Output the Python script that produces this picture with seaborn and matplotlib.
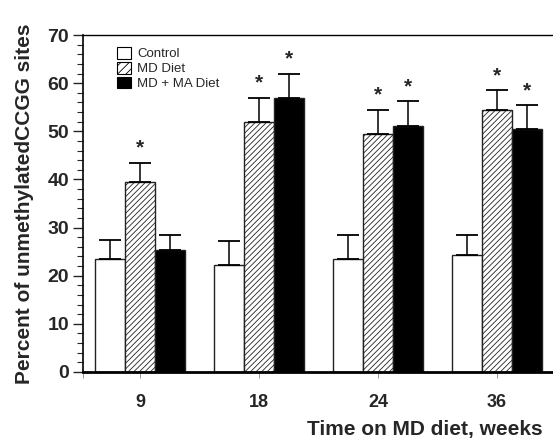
import matplotlib
matplotlib.use("Agg")
import matplotlib.pyplot as plt
import seaborn as sns
import pandas as pd
import numpy as np
from matplotlib.ticker import MultipleLocator
from matplotlib.patches import Patch

weeks = ["9", "18", "24", "36"]
groups = ["Control", "MD Diet", "MD + MA Diet"]
control = [23.4, 22.3, 23.4, 24.4]
md_diet = [39.5, 52.0, 49.5, 54.5]
md_ma = [25.4, 57.0, 51.2, 50.5]
control_err = [4.0, 5.0, 5.0, 4.0]
md_err = [4.0, 5.0, 5.0, 4.0]
ma_err = [3.0, 5.0, 5.0, 5.0]
stars_md = [True, True, True, True]
stars_ma = [False, True, True, True]

sns.set_style("ticks")
plt.rcParams['font.family'] = ['Liberation Sans', 'DejaVu Sans']
plt.rcParams['hatch.linewidth'] = 0.6

df = pd.DataFrame({
    "week": weeks * 3,
    "group": [groups[0]] * 4 + [groups[1]] * 4 + [groups[2]] * 4,
    "value": control + md_diet + md_ma,
})
errs = {groups[0]: control_err, groups[1]: md_err, groups[2]: ma_err}
stars = {groups[0]: [False] * 4, groups[1]: stars_md, groups[2]: stars_ma}
colors = {groups[0]: "white", groups[1]: "white", groups[2]: "black"}

fig = plt.figure(figsize=(5.53, 4.46), dpi=100)
ax = fig.add_axes([83 / 553, 1 - 372 / 446, 1 - 83 / 553, (372 - 35) / 446])

sns.barplot(data=df, x="week", y="value", hue="group", order=weeks,
            hue_order=groups, palette=colors, width=0.75, errorbar=None,
            edgecolor="#222222", linewidth=1.0, ax=ax, legend=False,
            saturation=1)

for gi, g in enumerate(groups):
    cont = ax.containers[gi]
    for wi, patch in enumerate(cont.patches):
        cx = patch.get_x() + patch.get_width() / 2
        h = patch.get_height()
        if g == "MD Diet":
            patch.set_hatch("//////")
            if hasattr(patch, "set_hatchcolor"):
                patch.set_hatchcolor("#777777")
        ax.errorbar([cx], [h], yerr=[[0], [errs[g][wi]]], fmt="none",
                    ecolor="black", elinewidth=1.1, capsize=8, capthick=1.3,
                    zorder=1)
        if stars[g][wi]:
            ax.text(cx, h + errs[g][wi] + 1.0, "*", ha="center", va="bottom",
                    fontsize=15, fontweight="bold")

ax.set_ylim(0, 70)
ax.set_xlim(-0.48, 3.47)
ax.yaxis.set_major_locator(MultipleLocator(10))
ax.yaxis.set_minor_locator(MultipleLocator(2))
ax.tick_params(axis="y", which="major", length=7, width=1.0, labelsize=14,
               direction="out", pad=3)
ax.tick_params(axis="y", which="minor", length=4, width=0.8, direction="out")
for lbl in ax.get_yticklabels():
    lbl.set_fontweight("bold")
ax.tick_params(axis="x", which="both", length=4, width=0.6, color="#888888",
               labelsize=13, pad=12)
ax.set_xticks([-0.48], minor=True)
for lbl in ax.get_xticklabels():
    lbl.set_fontweight("bold")

for s in ["left", "bottom", "top"]:
    ax.spines[s].set_visible(True)
    ax.spines[s].set_color("black")
ax.spines["left"].set_linewidth(1.2)
ax.spines["bottom"].set_linewidth(2.0)
ax.spines["top"].set_linewidth(1.0)
ax.spines["right"].set_visible(False)

ax.set_xlabel("")
ax.set_ylabel("Percent of unmethylatedCCGG sites", fontsize=15,
              fontweight="bold", labelpad=10)
fig.text(543 / 553, 1 - 430 / 446, "Time on MD diet, weeks", ha="right",
         va="center", fontsize=15, fontweight="bold")

handles = [Patch(facecolor="white", edgecolor="black", linewidth=0.8),
           Patch(facecolor="white", edgecolor="black", hatch="////",
                 linewidth=0.8),
           Patch(facecolor="black", edgecolor="black", linewidth=0.8)]
ax.legend(handles, groups, loc="upper left", bbox_to_anchor=(0.062, 0.98),
          frameon=False, fontsize=9.5, handlelength=1.0, handleheight=1.0,
          handletextpad=0.5, labelspacing=0.1, borderaxespad=0)

fig.savefig("out.png", dpi=100)
